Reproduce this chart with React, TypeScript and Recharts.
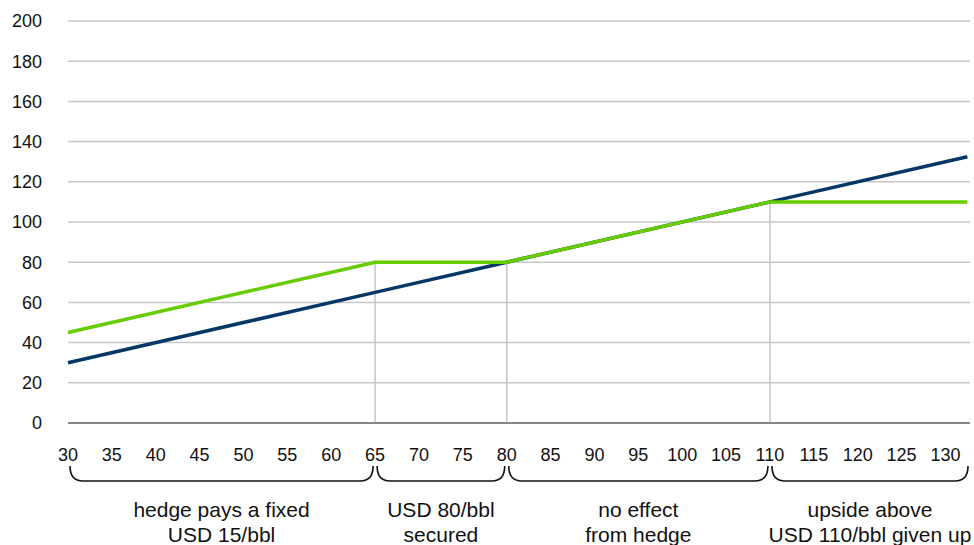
import {
  LineChart,
  Line,
  XAxis,
  YAxis,
  CartesianGrid,
  ReferenceLine,
  ReferenceArea,
} from "recharts";

// oil price (USD/bbl) at the points where the hedge payoff changes
const prices = [30, 65, 80, 110, 132.5];
const unhedged = [30, 65, 80, 110, 132.5];
const hedged = [45, 80, 80, 110, 110];

const xTicks = [30, 35, 40, 45, 50, 55, 60, 65, 70, 75, 80, 85, 90, 95, 100, 105, 110, 115, 120, 125, 130];
const yTicks = [0, 20, 40, 60, 80, 100, 120, 140, 160, 180, 200];

// which breakpoints get a grey drop line down to the axis
const dropLines = [65, 80, 110];

const zones = [
  { from: 30, to: 65, lines: ["hedge pays a fixed", "USD 15/bbl"] },
  { from: 65, to: 80, lines: ["USD 80/bbl", "secured"] },
  { from: 80, to: 110, lines: ["no effect", "from hedge"] },
  { from: 110, to: 132.8, lines: ["upside above", "USD 110/bbl given up"] },
];

const data = prices.map((p, i) => ({
  price: p,
  unhedged: unhedged[i],
  hedged: hedged[i],
}));

const font = "'Liberation Sans', Arial, sans-serif";

function Brace(props: any) {
  const { x, y, width, height, lines } = props;
  const base = y + height;
  const x0 = x + 2;
  const x1 = x + width - 2;
  const top = base + 43;
  const flat = base + 58;
  const r = 13;
  const cx = x + width / 2;
  return (
    <g>
      <path
        d={`M${x0},${top} Q${x0},${flat} ${x0 + r},${flat} L${x1 - r},${flat} Q${x1},${flat} ${x1},${top}`}
        fill="none"
        stroke="#111"
        strokeWidth={1.6}
      />
      {lines.map((t: string, i: number) => (
        <text
          key={t}
          x={cx}
          y={base + 94 + i * 25}
          textAnchor="middle"
          fontSize={21}
          fontFamily={font}
          fill="#111"
        >
          {t}
        </text>
      ))}
    </g>
  );
}

export default function App() {
  return (
    <div style={{ position: "absolute", left: 0, top: 0, background: "#fff" }}>
      <LineChart
        width={974}
        height={545}
        data={data}
        margin={{ top: 21, right: 4, bottom: 0, left: 0 }}
      >
        <CartesianGrid vertical={false} stroke="#c6c6c6" strokeWidth={1.5} />
        <XAxis
          type="number"
          dataKey="price"
          domain={[30, 132.8]}
          ticks={xTicks}
          interval={0}
          height={122}
          tickLine={false}
          axisLine={{ stroke: "#888888", strokeWidth: 2 }}
          tickMargin={19}
          tick={{ fontSize: 18, fill: "#111", fontFamily: font }}
        />
        <YAxis
          domain={[0, 200]}
          ticks={yTicks}
          width={68}
          axisLine={false}
          tickLine={false}
          tickMargin={20}
          tick={{ fontSize: 18, fill: "#111", fontFamily: font }}
        />
        {dropLines.map((p) => (
          <ReferenceLine
            key={p}
            segment={[
              { x: p, y: 0 },
              { x: p, y: hedged[prices.indexOf(p)] },
            ]}
            stroke="#c6c6c6"
            strokeWidth={1.5}
          />
        ))}
        {zones.map((z) => (
          <ReferenceArea
            key={z.from}
            x1={z.from}
            x2={z.to}
            y1={0}
            y2={20}
            fill="none"
            stroke="none"
            shape={(p: any) => <Brace {...p} lines={z.lines} />}
          />
        ))}
        <Line
          type="linear"
          dataKey="unhedged"
          stroke="#053767"
          strokeWidth={3.5}
          dot={false}
          isAnimationActive={false}
        />
        <Line
          type="linear"
          dataKey="hedged"
          stroke="#66cc00"
          strokeWidth={3.5}
          dot={false}
          isAnimationActive={false}
        />
      </LineChart>
    </div>
  );
}
